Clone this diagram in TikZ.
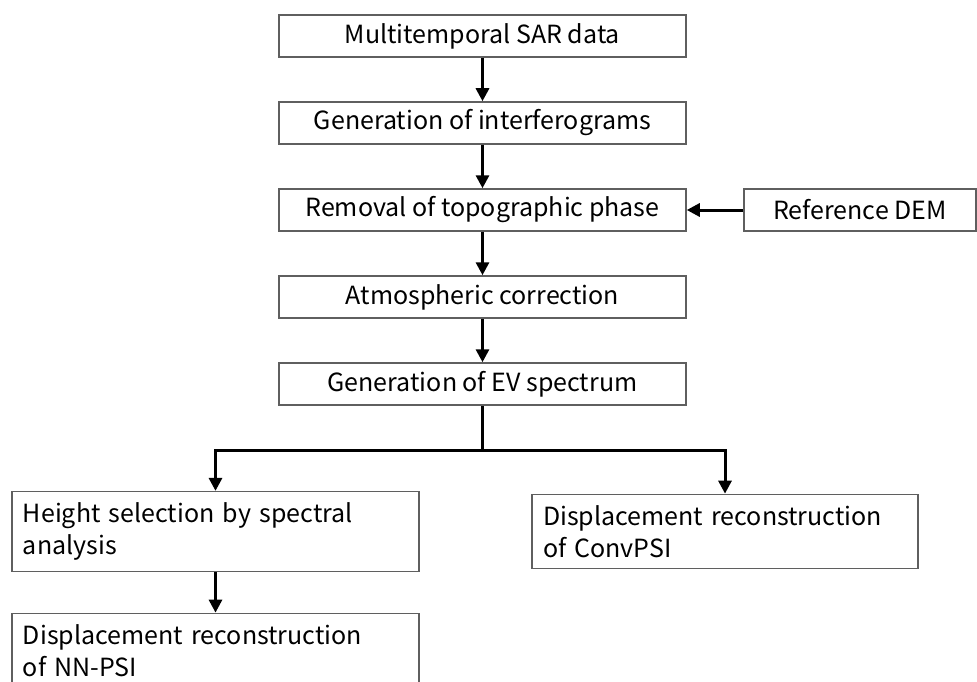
\documentclass[tikz,border=0pt]{standalone}
\usepackage{fontspec}
\setmainfont{Noto Sans CJK JP}
\usepackage{xcolor}
\usepackage{tikz}
\usetikzlibrary{positioning, calc, arrows.meta}
\definecolor{boxgray}{RGB}{95, 95, 95}

\tikzset{
    stepbox/.style={draw=boxgray, line width=1.5pt, minimum width=407pt, minimum height=42pt, inner sep=0pt, font=\fontsize{25}{32}\selectfont},
    widebox/.style={draw=boxgray, line width=1.5pt, align=left, inner sep=11pt, minimum height=73pt, font=\fontsize{25}{32}\selectfont},
    flow/.style={line width=3pt, -{Triangle[length=13pt, width=13pt]}}
}

\begin{document}
\begin{tikzpicture}[x=1pt, y=-1pt]
        \useasboundingbox (0,0) rectangle (977,682);

        % main chain
        \node[stepbox] (sar) at (482.5,36) {Multitemporal SAR data};
        \node[stepbox] (ifg) at (482.5,123) {Generation of interferograms};
        \node[stepbox] (topo) at (482.5,210) {Removal of topographic phase};
        \node[stepbox] (atm) at (482.5,297) {Atmospheric correction};
        \node[stepbox] (ev) at (482.5,384) {Generation of EV spectrum};
        \node[stepbox, minimum width=232pt] (dem) at (860,210) {Reference DEM};

        % two branches
        \node[widebox, text width=385pt] (hgt) at (215.5,531.5) {Height selection by spectral\\analysis};
        \node[widebox, text width=364pt] (conv) at (725,531.5) {Displacement reconstruction\\of ConvPSI};
        \node[widebox, text width=385pt] (nnpsi) at (215.5,650.5) {Displacement reconstruction\\of NN-PSI};

        \coordinate (split) at (482.5,450);

        \draw[flow] (sar) -- (ifg);
        \draw[flow] (ifg) -- (topo);
        \draw[flow] (dem) -- (topo);
        \draw[flow] (topo) -- (atm);
        \draw[flow] (atm) -- (ev);
        \draw[line width=3pt] (ev) -- (split);
        \draw[flow] (split) -| (hgt);
        \draw[flow] (split) -| (conv);
        \draw[flow] (hgt) -- (nnpsi);
    \end{tikzpicture}
\end{document}
